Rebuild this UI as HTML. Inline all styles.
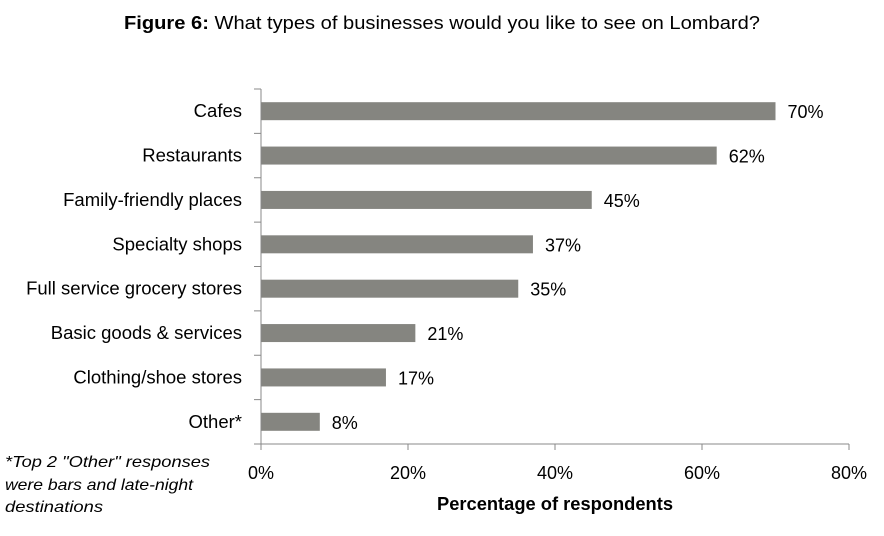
<!DOCTYPE html>
<html><head><meta charset="utf-8"><style>
body{margin:0;background:#fff;}
svg{display:block;font-family:"Liberation Sans",sans-serif;}
</style></head><body>
<svg id="chart" width="884" height="536" viewBox="0 0 884 536">
<text x="124" y="29" font-size="18.5" fill="#000" textLength="636" lengthAdjust="spacingAndGlyphs"><tspan font-weight="bold">Figure 6:</tspan> What types of businesses would you like to see on Lombard?</text>
<g id="plot"></g>
<text x="555" y="510" font-size="18" font-weight="bold" text-anchor="middle" textLength="236" lengthAdjust="spacingAndGlyphs">Percentage of respondents</text>
<g font-size="16" font-style="italic" fill="#000">
<text x="5" y="467" textLength="205" lengthAdjust="spacingAndGlyphs">*Top 2 "Other" responses</text>
<text x="5" y="490" textLength="188" lengthAdjust="spacingAndGlyphs">were bars and late-night</text>
<text x="5" y="512" textLength="98" lengthAdjust="spacingAndGlyphs">destinations</text>
</g>
</svg>
<script>
const categories=["Cafes","Restaurants","Family-friendly places","Specialty shops","Full service grocery stores","Basic goods & services","Clothing/shoe stores","Other*"];
const values=[70,62,45,37,35,21,17,8];
const tickValues=[0,20,40,60,80];
const tickLabels=["0%","20%","40%","60%","80%"];
const x0=261,x1=849,yTop=89,yBot=444,xMax=80;
const xs=v=>x0+(v/xMax)*(x1-x0);
const band=(yBot-yTop)/categories.length;
const yc=i=>yTop+band*(i+0.5);
const NS="http://www.w3.org/2000/svg";
const g=document.getElementById('plot');
function mk(t,a){const e=document.createElementNS(NS,t);for(const k in a)e.setAttribute(k,a[k]);g.appendChild(e);return e;}
categories.forEach((c,i)=>{
  const b=mk('rect',{x:x0,y:yc(i)-9,width:xs(values[i])-x0,height:18,fill:'#858580'});
  
  
  const l=mk('text',{x:242,y:yc(i)+6,'font-size':18.5,'text-anchor':'end',fill:'#000'});
  l.textContent=c;
  
  
  const v=mk('text',{x:xs(values[i])+12,y:yc(i)+7,'font-size':18,fill:'#000'});
  v.textContent=values[i]+'%';
  
  
});
for(let i=0;i<=categories.length;i++){
  const t=mk('line',{x1:254,x2:x0,y1:yTop+band*i,y2:yTop+band*i,stroke:'#888'});
  
  
}
const ya=mk('line',{x1:x0,x2:x0,y1:yTop,y2:yBot,stroke:'#888'});


const xa=mk('line',{x1:x0,x2:x1,y1:yBot,y2:yBot,stroke:'#888'});


tickValues.forEach((t,i)=>{
  const tk=mk('line',{x1:xs(t),x2:xs(t),y1:yBot,y2:yBot+6,stroke:'#888'});
  
  
  const tl=mk('text',{x:xs(t),y:479,'font-size':18,'text-anchor':'middle',fill:'#000'});
  tl.textContent=tickLabels[i];
  
  
});
</script>
</body></html>
